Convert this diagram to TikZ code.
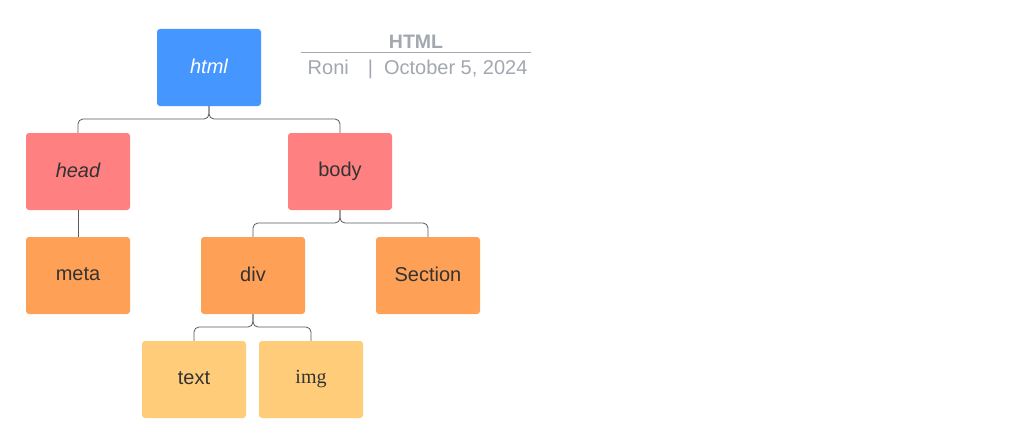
\documentclass[tikz,border=0pt]{standalone}
\usepackage{fontspec}
\setmainfont{Liberation Sans}
\newfontfamily\serifimg{Liberation Serif}
\definecolor{cblue}{HTML}{4596FF}
\definecolor{cred}{HTML}{FF8080}
\definecolor{corange}{HTML}{FFA057}
\definecolor{cyellow}{HTML}{FFCC7A}
\definecolor{ctext}{HTML}{333333}
\definecolor{cgray}{HTML}{A3A7AF}
\definecolor{cline}{HTML}{5A5A5A}
\tikzset{
  box/.style={rectangle, rounded corners=3pt, minimum width=104pt, minimum height=77pt, inner sep=0pt, text=ctext, font=\fontsize{20}{23}\selectfont},
  conn/.style={draw=cline, line width=0.8pt, rounded corners=5pt},
}
\begin{document}
\begin{tikzpicture}[x=1pt,y=-1pt]
\useasboundingbox[fill=white] (0,0) rectangle (1024,444);
\node[box, fill=cblue, text=white, font=\fontsize{20}{23}\selectfont\itshape] (html) at (209,67.5) {\raisebox{2pt}{html}};
\node[box, fill=cred, font=\fontsize{20}{23}\selectfont\itshape] (head) at (78,171.5) {\raisebox{2pt}{head}};
\node[box, fill=cred] (body) at (340,171.5) {\raisebox{2pt}{body}};
\node[box, fill=corange] (meta) at (78,275.5) {\raisebox{2pt}{meta}};
\node[box, fill=corange] (div) at (253,275.5) {\raisebox{2pt}{div}};
\node[box, fill=corange] (section) at (428,275.5) {\raisebox{2pt}{Section}};
\node[box, fill=cyellow] (text) at (194,379.5) {\raisebox{2pt}{text}};
\node[box, fill=cyellow, font=\fontsize{20}{23}\selectfont\serifimg] (img) at (311,379.5) {\raisebox{2pt}{img}};
% title
\node[text=cgray, font=\fontsize{19.5}{22}\selectfont\bfseries] (title) at (416,41.5) {HTML};
\coordinate (ruleL) at (301,53);
\coordinate (ruleR) at (531,53);
\draw[cgray, line width=1pt] (ruleL) -- (ruleR);
\node[text=cgray, font=\fontsize{20}{23}\selectfont, anchor=west, inner sep=0pt] (author) at (307.5,69) {Roni\hspace{0.95em}|\hspace{0.55em}October 5, 2024};
% connectors
\draw[conn] (head.north) -- (head.north |- 0,119) -- (html.south |- 0,119) -- (html.south);
\draw[conn] (body.north) -- (body.north |- 0,119) -- (html.south |- 0,119) -- (html.south);
\draw[draw=cline, line width=0.8pt] (head.south) -- (meta.north);
\draw[conn] (div.north) -- (div.north |- 0,223) -- (body.south |- 0,223) -- (body.south);
\draw[conn] (section.north) -- (section.north |- 0,223) -- (body.south |- 0,223) -- (body.south);
\draw[conn] (text.north) -- (text.north |- 0,327) -- (div.south |- 0,327) -- (div.south);
\draw[conn] (img.north) -- (img.north |- 0,327) -- (div.south |- 0,327) -- (div.south);
\end{tikzpicture}
\end{document}
